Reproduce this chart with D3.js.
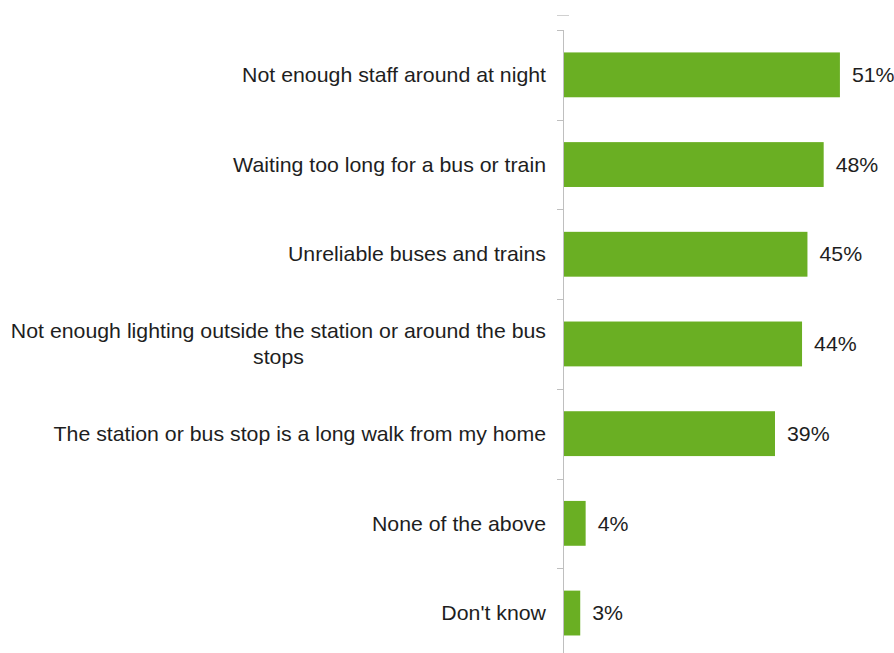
<!DOCTYPE html>
<html><head><meta charset="utf-8">
<script src="https://cdn.jsdelivr.net/npm/d3@7"></script>
<style>html,body{margin:0;padding:0;background:#fff;}svg{display:block;}</style>
</head><body>
<script>
const categories = [
  "Not enough staff around at night",
  "Waiting too long for a bus or train",
  "Unreliable buses and trains",
  "Not enough lighting outside the station or around the bus stops",
  "The station or bus stop is a long walk from my home",
  "None of the above",
  "Don't know"
];
const labelLines = [
  ["Not enough staff around at night"],
  ["Waiting too long for a bus or train"],
  ["Unreliable buses and trains"],
  ["Not enough lighting outside the station or around the bus", "stops"],
  ["The station or bus stop is a long walk from my home"],
  ["None of the above"],
  ["Don't know"]
];
const values = [51, 48, 45, 44, 39, 4, 3];

const W = 894, H = 653;
const svg = d3.select("body").append("svg").attr("width", W).attr("height", H);
const font = "'Liberation Sans', Arial, sans-serif";
const fs = 20, sx = 1.065, txtColor = "#1e1e1e";

const x = d3.scaleLinear().domain([0, 60]).range([564, 564 + 5.41 * 60]);
const y = d3.scaleBand().domain(categories).range([30, 30 + 89.7 * 7]).paddingInner(0.5).paddingOuter(0.25);

// stray tick at top
svg.append("line").attr("x1", 557).attr("x2", 569).attr("y1", 15.5).attr("y2", 15.5)
  .attr("stroke", "#d0d0d0").attr("stroke-width", 1);

// axis line
svg.append("line").attr("x1", 563.5).attr("x2", 563.5).attr("y1", 30).attr("y2", H)
  .attr("stroke", "#bfbfbf").attr("stroke-width", 1);
// boundary ticks
const step = y.step();
d3.range(0, 8).forEach(i => {
  const yy = Math.round(30 + i * step) + 0.5;
  svg.append("line").attr("x1", 557).attr("x2", 564).attr("y1", yy).attr("y2", yy)
    .attr("stroke", "#bfbfbf").attr("stroke-width", 1);
});

svg.selectAll("rect.bar").data(values).enter().append("rect")
  .attr("class", "bar")
  .attr("x", x(0))
  .attr("y", (d, i) => y(categories[i]))
  .attr("width", d => x(d) - x(0))
  .attr("height", y.bandwidth())
  .attr("fill", "#6aaf23");

svg.selectAll("text.val").data(values).enter().append("text")
  .attr("class", "val")
  .attr("transform", (d, i) => `translate(${x(d) + 12},${y(categories[i]) + y.bandwidth() / 2}) scale(${sx},1)`)
  .attr("dy", "0.36em")
  .attr("font-family", font).attr("font-size", fs).attr("fill", txtColor)
  .text(d => d + "%");

labelLines.forEach((lines, i) => {
  const cy = y(categories[i]) + y.bandwidth() / 2;
  const lh = 26.5;
  const g = svg.append("g").attr("transform", `translate(546,${cy}) scale(${sx},1)`);
  const t = g.append("text")
    .attr("font-family", font).attr("font-size", fs).attr("fill", txtColor);
  const spans = lines.map((ln, j) => t.append("tspan")
      .attr("y", (j - (lines.length - 1) / 2) * lh)
      .attr("dy", "0.36em").text(ln));
  const maxW = d3.max(spans, s => s.node().getComputedTextLength());
  spans.forEach(s => s.attr("x", -maxW / 2).attr("text-anchor", "middle"));
});
</script>
</body></html>
